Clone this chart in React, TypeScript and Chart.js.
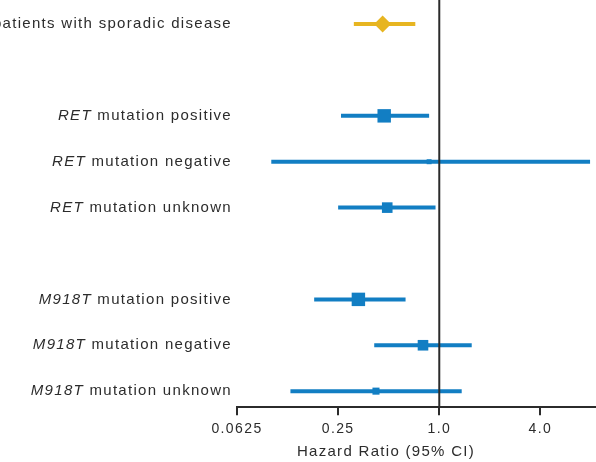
import { useEffect, useRef } from "react";
import { Chart, registerables } from "chart.js";

Chart.register(...registerables);

// Row labels (italic gene prefix + normal suffix) and their row index on the plot
const LABEL_PREFIX = ["", "RET", "RET", "RET", "M918T", "M918T", "M918T"];
const LABEL_SUFFIX = [
  "patients with sporadic disease",
  " mutation positive",
  " mutation negative",
  " mutation unknown",
  " mutation positive",
  " mutation negative",
  " mutation unknown",
];
const ROW_INDEX = [0, 2, 3, 4, 6, 7, 8];

// Hazard ratios and 95% CI
const HAZARD_RATIO = [0.46, 0.47, 0.87, 0.49, 0.33, 0.8, 0.42];
const CI_LOW = [0.31, 0.26, 0.1, 0.25, 0.18, 0.41, 0.13];
const CI_HIGH = [0.72, 0.87, 7.9, 0.95, 0.63, 1.56, 1.36];
// relative marker weight (size of square)
const MARKER_WEIGHT = [8.5, 9.5, 3.5, 7.5, 9.5, 7.5, 5];
const IS_OVERALL = [true, false, false, false, false, false, false];

const TICK_VALUES = [0.0625, 0.25, 1, 4];
const TICK_LABELS = ["0.0625", "0.25", "1.0", "4.0"];
const REFERENCE_VALUE = 1;
const AXIS_TITLE = "Hazard Ratio (95% CI)";

const GOLD = "#e7b521";
const BLUE = "#127ec3";
const TEXT = "#2c2c2c";
const FONT_FAMILY = '"Liberation Sans", Arial, Helvetica, sans-serif';

const forestPlugin = {
  id: "forestPlugin",
  beforeDraw(chart: any) {
    (chart.ctx as any).letterSpacing = "1.4px";
  },
  afterDatasetsDraw(chart: any) {
    const { ctx, chartArea, scales } = chart;
    const px = scales.x.getPixelForValue(REFERENCE_VALUE);
    ctx.save();
    ctx.strokeStyle = "#2b2b2b";
    ctx.lineWidth = 2;
    ctx.beginPath();
    ctx.moveTo(px, 0);
    ctx.lineTo(px, chartArea.bottom);
    ctx.stroke();
    ctx.restore();
  },
  afterDraw(chart: any) {
    const { ctx, chartArea, scales } = chart;
    ctx.save();
    (ctx as any).letterSpacing = "1.3px";
    ctx.fillStyle = TEXT;
    ctx.textBaseline = "middle";
    const rightX = chartArea.left - 5;
    LABEL_SUFFIX.forEach((suffix, i) => {
      const y = scales.y.getPixelForValue(ROW_INDEX[i]);
      ctx.font = `15px ${FONT_FAMILY}`;
      ctx.textAlign = "right";
      ctx.fillText(suffix, rightX, y);
      const w = ctx.measureText(suffix).width;
      const prefix = LABEL_PREFIX[i];
      if (prefix) {
        ctx.font = `italic 15px ${FONT_FAMILY}`;
        ctx.fillText(prefix, rightX - w, y);
      }
    });
    ctx.font = `15px ${FONT_FAMILY}`;
    ctx.textAlign = "center";
    ctx.fillText(AXIS_TITLE, 386, 452);
    ctx.restore();
  },
};

export default function App() {
  const canvasRef = useRef<HTMLCanvasElement | null>(null);

  useEffect(() => {
    if (!canvasRef.current) return;

    const ciDatasets = HAZARD_RATIO.map((_, i) => ({
      type: "scatter" as const,
      data: [
        { x: CI_LOW[i], y: ROW_INDEX[i] },
        { x: CI_HIGH[i], y: ROW_INDEX[i] },
      ],
      showLine: true,
      borderColor: IS_OVERALL[i] ? GOLD : BLUE,
      borderWidth: 4,
      borderCapStyle: "butt" as const,
      pointRadius: 0,
      clip: false as any,
    }));

    const markerDataset = {
      type: "scatter" as const,
      data: HAZARD_RATIO.map((v, i) => ({ x: v, y: ROW_INDEX[i] })),
      pointStyle: IS_OVERALL.map((o) => (o ? "rectRot" : "rect")),
      pointRadius: MARKER_WEIGHT,
      backgroundColor: IS_OVERALL.map((o) => (o ? GOLD : BLUE)),
      borderWidth: 0,
      clip: false as any,
    };

    const chart = new Chart(canvasRef.current, {
      type: "scatter",
      data: { datasets: [markerDataset, ...ciDatasets] as any },
      plugins: [forestPlugin],
      options: {
        animation: false,
        responsive: true,
        maintainAspectRatio: false,
        events: [],
        layout: { autoPadding: false, padding: { left: 237, right: 0, top: 0, bottom: 18 } },
        plugins: { legend: { display: false }, tooltip: { enabled: false } },
        scales: {
          x: {
            type: "logarithmic",
            min: 0.0625,
            max: 8.57,
            afterBuildTicks: (axis: any) => {
              axis.ticks = TICK_VALUES.map((v) => ({ value: v }));
            },
            ticks: {
              autoSkip: false,
              maxRotation: 0,
              padding: 6,
              color: TEXT,
              font: { family: FONT_FAMILY, size: 14 },
              callback: (value: any) => {
                const idx = TICK_VALUES.indexOf(Number(value));
                return idx >= 0 ? TICK_LABELS[idx] : "";
              },
            },
            grid: {
              display: true,
              drawOnChartArea: false,
              drawTicks: true,
              tickLength: 8,
              color: "#2b2b2b",
              lineWidth: 2,
            },
            border: { display: true, color: "#2b2b2b", width: 2 },
          },
          y: {
            type: "linear",
            reverse: true,
            min: -0.525,
            max: 8.35,
            display: false,
          },
        },
      },
    });

    return () => chart.destroy();
  }, []);

  return (
    <div style={{ position: "fixed", left: 0, top: 0, width: 596, height: 462, background: "#fff" }}>
      <canvas ref={canvasRef} />
    </div>
  );
}
